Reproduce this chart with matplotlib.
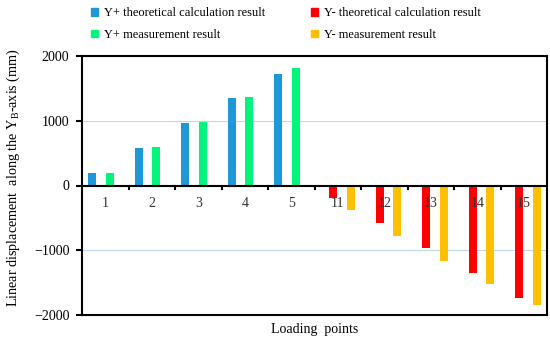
import numpy as np
import matplotlib.pyplot as plt
from matplotlib.patches import Patch

plt.rcParams['font.family'] = ['Liberation Serif', 'DejaVu Serif']

points = ["1", "2", "3", "4", "5", "11", "12", "13", "14", "15"]
yplus_theory = [190, 580, 960, 1345, 1725, 0, 0, 0, 0, 0]
yminus_theory = [0, 0, 0, 0, 0, -195, -577, -969, -1355, -1730]
yplus_meas = [190, 595, 975, 1360, 1815, 0, 0, 0, 0, 0]
yminus_meas = [0, 0, 0, 0, 0, -386, -778, -1164, -1519, -1844]

series = [
    ("Y+ theoretical calculation result", yplus_theory, "#1F98D8"),
    ("Y- theoretical calculation result", yminus_theory, "#FF0000"),
    ("Y+ measurement result", yplus_meas, "#00F57A"),
    ("Y- measurement result", yminus_meas, "#FFC000"),
]

fig = plt.figure(figsize=(5.5, 3.38), dpi=100)
ax = fig.add_axes([82/550, 1-315/338, 465/550, 259/338])

x = np.arange(len(points))
step = 0.183
w = 0.172
for i, (name, vals, col) in enumerate(series):
    ax.bar(x + (i - 1.5) * step, vals, width=w, color=col, zorder=3)

ax.set_xlim(-0.5, len(points) - 0.5)
ax.set_ylim(-2000, 2000)
ax.set_yticks([-2000, -1000, 0, 1000, 2000])
ax.yaxis.grid(True, color="#BDD7EE", linewidth=0.8, zorder=0)
ax.tick_params(axis="y", labelsize=10, width=1.5, length=4, direction="out", pad=5)

# category axis on the zero line
ax.axhline(0, color="black", linewidth=1.5, zorder=4)
ax.set_xticks(x[:-1] + 0.5)
ax.set_xticklabels([])
ax.tick_params(axis="x", length=0)
for xi in x[:-1] + 0.5:
    ax.plot([xi, xi], [0, -55], color="black", linewidth=1.5, zorder=4, clip_on=False)
for xi, lab in zip(x, points):
    ax.text(xi, -170, lab, ha="center", va="top", fontsize=10, color="#333333", zorder=5)

for s in ax.spines.values():
    s.set_linewidth(1.5)

ax.set_ylabel("Linear displacement  along the Y$_\\mathregular{B}$-axis (mm)", fontsize=10.2)
ax.yaxis.set_label_coords(-0.13, 0.53)
ax.set_xlabel("Loading  points", fontsize=10, labelpad=2)

handles = [Patch(color=c, label=n) for n, v, c in series]
order = [0, 2, 1, 3]
fig.legend([handles[i] for i in order], [series[i][0] for i in order],
           ncol=2, loc="upper left", bbox_to_anchor=(83/550, 1.0),
           frameon=False, fontsize=9, handlelength=0.6, handleheight=0.6,
           handletextpad=0.5, columnspacing=3.6, labelspacing=0.75,
           borderaxespad=0.2)

fig.savefig("out.png", dpi=100)
